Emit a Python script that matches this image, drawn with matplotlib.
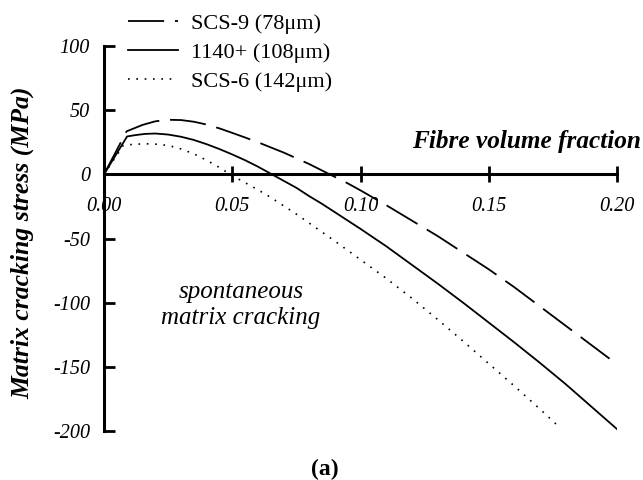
import matplotlib
matplotlib.use("Agg")
import matplotlib.pyplot as plt

# Data
scs9_x = [0.0, 0.0088, 0.015, 0.020, 0.025, 0.030, 0.035, 0.040, 0.045, 0.050, 0.055,
          0.060, 0.065, 0.070, 0.075, 0.080, 0.085, 0.090, 0.095, 0.100, 0.110,
          0.120, 0.130, 0.140, 0.150, 0.160, 0.170, 0.180, 0.190, 0.200]
scs9_y = [0, 33.5, 38.5, 41.3, 42.5, 42.3, 41, 38.8, 35.8, 32.3, 28.7,
          25, 21, 17, 12.5, 8, 3, -2, -7, -12.5, -24,
          -36, -48, -61, -74, -88, -103, -118, -133, -148]

t1140_x = [0.0, 0.009, 0.012, 0.016, 0.020, 0.025, 0.030, 0.035, 0.040, 0.045, 0.050,
           0.055, 0.060, 0.065, 0.070, 0.075, 0.080, 0.085, 0.090, 0.100, 0.110,
           0.120, 0.130, 0.140, 0.150, 0.160, 0.170, 0.180, 0.190, 0.200]
t1140_y = [0, 29.5, 30.5, 31.5, 31.8, 31, 29.3, 26.8, 23.5, 19.7, 15.5,
           11, 6, 0.5, -5, -10.5, -17, -23, -29.5, -42.5, -56,
           -70.5, -85, -100, -115.5, -131, -147, -163.5, -181, -198.5]

scs6_x = [0.0, 0.0075, 0.012, 0.018, 0.022, 0.026, 0.030, 0.035, 0.040, 0.045, 0.050,
          0.055, 0.060, 0.065, 0.070, 0.075, 0.080, 0.090, 0.100, 0.110, 0.120,
          0.130, 0.140, 0.150, 0.160, 0.170, 0.177]
scs6_y = [0, 22.5, 23.5, 23.8, 23.3, 22, 19.8, 16, 11, 5.3, -1,
          -6.5, -12, -18, -24.5, -31, -38, -52, -66.5, -81, -96.5,
          -113, -130, -147.5, -165, -183, -196]

x_ticks = [0.00, 0.05, 0.10, 0.15, 0.20]
x_tick_labels = ["0.00", "0.05", "0.10", "0.15", "0.20"]
y_ticks = [100, 50, 0, -50, -100, -150, -200]

plt.rcParams["font.family"] = ["Liberation Serif", "DejaVu Serif"]
plt.rcParams["axes.unicode_minus"] = False

fig = plt.figure(figsize=(6.43, 4.8), dpi=100)
ax = fig.add_axes([104 / 643, 49 / 480, 513 / 643, 385 / 480])

ax.plot(scs9_x, scs9_y, color="black", lw=1.3, linestyle=(0, (20, 6)),
        label="SCS-9 (78\u03bcm)")
ax.plot(t1140_x, t1140_y, color="black", lw=1.3, linestyle="-",
        label="1140+ (108\u03bcm)")
ax.plot(scs6_x, scs6_y, color="black", lw=1.2, linestyle=(0, (1, 4)),
        label="SCS-6 (142\u03bcm)")

ax.set_xlim(0, 0.2)
ax.set_ylim(-200, 100)

# spines: y axis on the left, x axis through zero
for s in ["top", "right"]:
    ax.spines[s].set_visible(False)
ax.spines["bottom"].set_position(("data", 0))
ax.spines["left"].set_linewidth(2.2)
ax.spines["bottom"].set_linewidth(2.2)

ax.set_xticks(x_ticks)
ax.set_xticklabels(x_tick_labels, fontstyle="italic", fontsize=14.5)
ax.set_yticks(y_ticks)
ax.set_yticklabels([str(v) for v in y_ticks], fontstyle="italic", fontsize=14.5)
ax.tick_params(axis="x", direction="inout", length=12, width=2, pad=10)
ax.tick_params(axis="y", direction="in", length=8, width=2, pad=10)

ax.set_xlabel("Fibre volume fraction", fontsize=18.2, fontweight="bold",
              fontstyle="italic", ha="right", va="center")
ax.xaxis.set_label_coords(1.047, 0.751)
ax.set_ylabel("Matrix cracking stress (MPa)", fontsize=18.5, fontweight="bold",
              fontstyle="italic", va="center")
ax.yaxis.set_label_coords(-0.158, 0.49)

ax.text(0.0534, -102, "spontaneous\nmatrix cracking", fontsize=18,
        fontstyle="italic", ha="center", va="center", linespacing=1.25)

ax.legend(loc="upper left", bbox_to_anchor=(128 / 643, 1 - 13 / 480),
          bbox_transform=fig.transFigure, frameon=False, fontsize=16,
          handlelength=2.25, handletextpad=0.6, labelspacing=0.38,
          borderpad=0, borderaxespad=0)

fig.text(325 / 643, 1 - 469 / 480, "(a)", fontsize=17, fontweight="bold",
         ha="center", va="center")

fig.savefig("out.png", dpi=100)
